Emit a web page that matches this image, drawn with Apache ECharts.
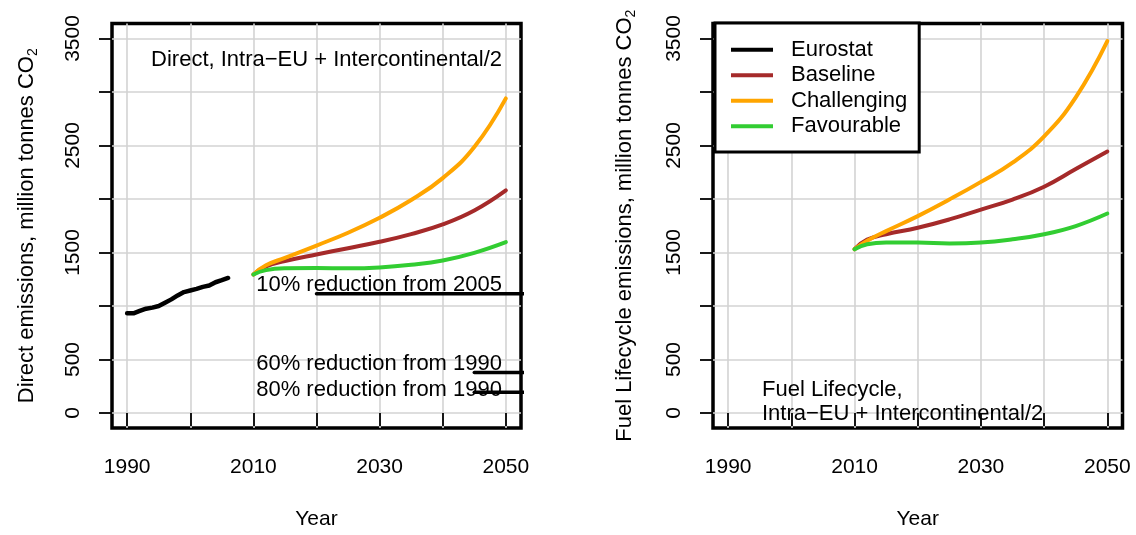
<!DOCTYPE html>
<html><head><meta charset="utf-8">
<script src="https://cdn.jsdelivr.net/npm/echarts@6/dist/echarts.min.js"></script>
<style>html,body{margin:0;padding:0;background:#fff}#c{width:1136px;height:535px}</style>
</head><body><div id="c"></div>
<script>
// ---- data ----
const eurostatYears = [1990,1991,1992,1993,1994,1995,1996,1997,1998,1999,2000,2001,2002,2003,2004,2005,2006];
const eurostatDirect = [932,932,954,975,985,1000,1031,1062,1099,1130,1145,1160,1179,1191,1222,1241,1262];
const scenarioYears = [2010,2012,2015,2020,2025,2030,2035,2040,2045,2050];
const directBaseline = [1295,1370,1420,1482,1540,1600,1672,1762,1892,2080];
const directChallenging = [1295,1380,1450,1565,1685,1825,1990,2195,2485,2940];
const directFavourable = [1295,1335,1352,1355,1352,1360,1385,1425,1497,1597];
const lifecycleBaseline = [1531,1620,1670,1731,1809,1901,1994,2115,2280,2444];
const lifecycleChallenging = [1531,1610,1700,1840,1995,2160,2340,2585,2950,3475];
const lifecycleFavourable = [1531,1577,1593,1593,1585,1593,1623,1670,1747,1864];
const targetLabels = ['10% reduction from 2005','60% reduction from 1990','80% reduction from 1990'];
const targetStartYears = [2020,2045,2045];
const targetEndYear = 2060;
const targetValues = [1115,378,195];
const xTicks = [1990,2000,2010,2020,2030,2040,2050];
const xTickLabels = [1990,2010,2030,2050];
const yTicks = [0,500,1000,1500,2000,2500,3000,3500];
const yTickLabels = [0,500,1500,2500,3500];
const seriesNames = ['Eurostat','Baseline','Challenging','Favourable'];
const seriesColors = ['#000000','#a52a2a','#ffa500','#32cd32'];

const FONT = 'Liberation Sans';
const zip = (xs, ys) => xs.map((x, i) => [x, ys[i]]);
const plain = v => String(v);

function xAxisFor(idx) {
  return {
    type: 'value', gridIndex: idx, min: 1987.6, max: 2052.4,
    name: 'Year', nameLocation: 'middle', nameGap: 81,
    nameTextStyle: {fontFamily: FONT, fontSize: 21, color: '#000'},
    axisLine: {show: false},
    axisTick: {show: true, customValues: xTicks, length: 13, lineStyle: {color: '#000', width: 1.8}},
    axisLabel: {customValues: xTickLabels, formatter: plain, margin: 29, fontFamily: FONT, fontSize: 21, color: '#000'},
    splitLine: {show: true, lineStyle: {color: '#d3d3d3', width: 1.6}}
  };
}
function yAxisFor(idx, title) {
  return {
    type: 'value', gridIndex: idx, min: -140, max: 3640,
    name: title, nameLocation: 'middle', nameGap: 72, nameRotate: 90,
    nameTextStyle: {fontFamily: FONT, fontSize: 22, color: '#000', lineHeight: 26,
      rich: {sub: {fontFamily: FONT, fontSize: 14, verticalAlign: 'bottom', lineHeight: 14, color: '#000'}}},
    axisLine: {show: false},
    axisTick: {show: true, customValues: yTicks, length: 13, lineStyle: {color: '#000', width: 1.8}},
    axisLabel: {customValues: yTickLabels, formatter: plain, rotate: 90, margin: 28, fontFamily: FONT, fontSize: 21, color: '#000'},
    splitLine: {show: true, lineStyle: {color: '#d3d3d3', width: 1.6}}
  };
}
function lineSeries(name, idx, data, color, width, smooth) {
  return {
    type: 'line', name: name, xAxisIndex: idx, yAxisIndex: idx, data: data,
    color: color, symbol: 'none', smooth: smooth ? 0.45 : false,
    lineStyle: {color: color, width: width, cap: 'round', join: 'round'},
    silent: true, animation: false, z: 3
  };
}

const series = [];
series.push(lineSeries(seriesNames[0], 0, zip(eurostatYears, eurostatDirect), seriesColors[0], 4.5, false));
series.push(lineSeries(seriesNames[1], 0, zip(scenarioYears, directBaseline), seriesColors[1], 4, true));
series.push(lineSeries(seriesNames[2], 0, zip(scenarioYears, directChallenging), seriesColors[2], 4, true));
series.push(lineSeries(seriesNames[3], 0, zip(scenarioYears, directFavourable), seriesColors[3], 4, true));
targetValues.forEach((v, i) => {
  series.push(Object.assign(lineSeries('target' + i, 0, [[targetStartYears[i], v], [targetEndYear, v]], '#000', 3.5, false), {legendHoverLink: false}));
});
series.push(lineSeries(seriesNames[0], 1, [], seriesColors[0], 4.5, false));
series.push(lineSeries(seriesNames[1], 1, zip(scenarioYears, lifecycleBaseline), seriesColors[1], 4, true));
series.push(lineSeries(seriesNames[2], 1, zip(scenarioYears, lifecycleChallenging), seriesColors[2], 4, true));
series.push(lineSeries(seriesNames[3], 1, zip(scenarioYears, lifecycleFavourable), seriesColors[3], 4, true));

const txt = (text, x, y, align) => ({
  type: 'text', x: x, y: y, z: 100, silent: true,
  style: {text: text, align: align, verticalAlign: 'middle', fontFamily: FONT, fontSize: 22, fill: '#000'}
});

const chart = echarts.init(document.getElementById('c'), null, {renderer: 'canvas'});
chart.setOption({
  animation: false,
  backgroundColor: '#fff',
  grid: [
    {left: 112, top: 23.5, width: 409, height: 409.5, show: true, borderColor: '#000', borderWidth: 3.5, backgroundColor: 'transparent', containLabel: false},
    {left: 713, top: 23.5, width: 409.5, height: 409.5, show: true, borderColor: '#000', borderWidth: 3.5, backgroundColor: 'transparent', containLabel: false}
  ],
  xAxis: [xAxisFor(0), xAxisFor(1)],
  yAxis: [
    yAxisFor(0, 'Direct emissions, million tonnes CO{sub|2}'),
    Object.assign(yAxisFor(1, 'Fuel Lifecycle emissions, million tonnes CO{sub|2}'), {nameGap: 75})
  ],
  legend: {
    data: seriesNames, orient: 'vertical', left: 715, top: 23,
    icon: 'rect', itemWidth: 42, itemHeight: 4, itemGap: 0,
    padding: [14, 12, 13, 16],
    borderColor: '#000', borderWidth: 3, backgroundColor: '#fff',
    textStyle: {fontFamily: FONT, fontSize: 22, color: '#000', lineHeight: 25.5, padding: [0, 0, 0, 13]},
    selectedMode: false, z: 50
  },
  graphic: [
    txt('Direct, Intra\u2212EU + Intercontinental/2', 502, 60, 'right'),
    txt(targetLabels[0], 502, 285, 'right'),
    txt(targetLabels[1], 502, 364, 'right'),
    txt(targetLabels[2], 502, 390, 'right'),
    txt('Fuel Lifecycle,', 762, 390, 'left'),
    txt('Intra\u2212EU + Intercontinental/2', 762, 414, 'left')
  ],
  series: series
});
</script></body></html>
